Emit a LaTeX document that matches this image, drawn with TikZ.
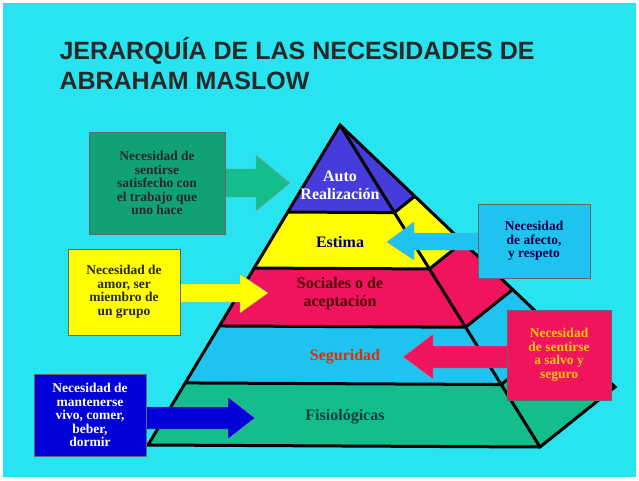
\documentclass[tikz,border=0pt]{standalone}
\usepackage{fontspec}
\setmainfont{Liberation Serif}
\newfontfamily\titlefont{Liberation Sans}
\usetikzlibrary{calc}
\definecolor{bg}{RGB}{40,228,240}
\definecolor{lblue}{RGB}{70,60,220}
\definecolor{lyel}{RGB}{255,255,0}
\definecolor{lpink}{RGB}{240,20,95}
\definecolor{lsky}{RGB}{30,195,240}
\definecolor{lgrn}{RGB}{20,190,140}
\definecolor{tdark}{RGB}{40,40,40}
\tikzset{
  box/.style={draw=black!60,line width=0.6pt,align=center,inner sep=2pt,font=\fontsize{13.5}{13.5}\selectfont\bfseries},
  lay/.style={font=\fontsize{16}{18}\selectfont\bfseries,align=center},
  arr/.style={draw=black!40,line width=0.4pt}
}
\begin{document}
\begin{tikzpicture}[x=1pt,y=-1pt]
\fill[white] (0,0) rectangle (639,480);
\fill[bg] (3,3) rectangle (636,477);
\useasboundingbox (0,0) rectangle (639,480);
\node[anchor=west,font=\titlefont\bfseries\fontsize{25}{30}\selectfont,text=tdark,align=left] (title) at (56,64) {JERARQUÍA DE LAS NECESIDADES DE\\ABRAHAM MASLOW};
\coordinate (A) at (340,125);
\coordinate (L) at (148,445);
\coordinate (R) at (540,447);
\coordinate (B) at (615,387);
\foreach \a/\b/\c in {0/0.272/lblue,0.272/0.447/lyel,0.447/0.628/lpink,0.628/0.806/lsky,0.806/1/lgrn}{
  \fill[\c] ($(A)!\a!(L)$) -- ($(A)!\b!(L)$) -- ($(A)!\b!(R)$) -- ($(A)!\a!(R)$) -- cycle;
  \fill[\c] ($(A)!\a!(R)$) -- ($(A)!\b!(R)$) -- ($(A)!\b!(B)$) -- ($(A)!\a!(B)$) -- cycle;
}
\foreach \t in {0.272,0.447,0.628,0.806}{
  \draw[line width=3pt] ($(A)!\t!(L)$) -- ($(A)!\t!(R)$) -- ($(A)!\t!(B)$);
}
\draw[line width=3pt,line join=miter] (A) -- (L) -- (R) -- (B) -- cycle;
\draw[line width=3pt] (A) -- (R);
\node[lay,text=white] (auto) at (340,185) {Auto\\Realización};
\node[lay,text=blue!50!black] (estima) at (340,242) {Estima};
\node[lay,text=red!30!black] (soc) at (340,294) {Sociales o de\\aceptación};
\node[lay,text=red!60!orange!90!black] (seg) at (345,357) {Seguridad};
\node[lay,text=teal!50!black] (fis) at (345,417) {Fisiológicas};
% arrows
\fill[lgrn,arr] (224,169) -- (256,169) -- (256,155) -- (290,183) -- (256,211) -- (256,197) -- (224,197) -- cycle;
\fill[lyel,arr] (178,284) -- (240,284) -- (240,274) -- (268,293) -- (240,313) -- (240,302) -- (178,302) -- cycle;
\fill[lsky,arr] (480,233) -- (414,233) -- (414,222) -- (387,242) -- (414,260) -- (414,250) -- (480,250) -- cycle;
\fill[lpink,arr] (509,346) -- (433,346) -- (433,334) -- (403,357) -- (433,379) -- (433,368) -- (509,368) -- cycle;
\fill[blue!85!black,arr] (144,407) -- (228,407) -- (228,397) -- (255,418) -- (228,439) -- (228,429) -- (144,429) -- cycle;
% boxes
\node[box,fill=lgrn!85!black,text=tdark,minimum width=136,minimum height=102] (b1) at (157,183) {Necesidad de\\sentirse\\satisfecho con\\el trabajo que\\uno hace};
\node[box,fill=lyel,text=tdark,minimum width=112,minimum height=86] (b2) at (124,292) {Necesidad de\\amor, ser\\miembro de\\un grupo};
\node[box,fill=lsky,text=blue!30!black,minimum width=112,minimum height=74] (b3) at (534,241) {Necesidad\\de afecto,\\y respeto};
\node[box,fill=lpink,text=yellow!60!orange,minimum width=104,minimum height=90] (b4) at (559,355) {Necesidad\\de sentirse\\a salvo y\\seguro};
\node[box,fill=blue!85!black,text=white,minimum width=112,minimum height=82] (b5) at (90,415) {Necesidad de\\mantenerse\\vivo, comer,\\beber,\\dormir};
\end{tikzpicture}
\end{document}
